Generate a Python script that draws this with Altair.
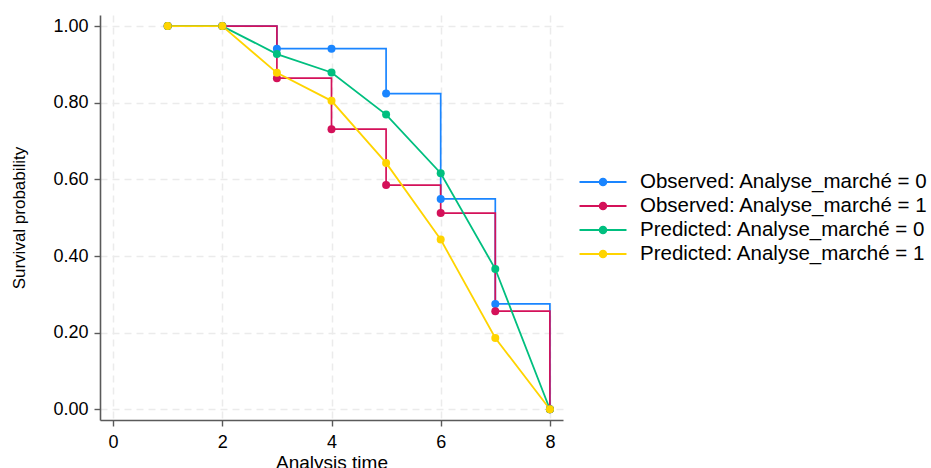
import altair as alt
import pandas as pd

times = [1, 2, 3, 4, 5, 6, 7, 8]
obs0 = [1.0, 1.0, 0.941, 0.941, 0.824, 0.549, 0.275, 0.0]
obs1 = [1.0, 1.0, 0.864, 0.731, 0.585, 0.512, 0.256, 0.0]
pred0 = [1.0, 1.0, 0.927, 0.879, 0.769, 0.616, 0.366, 0.0]
pred1 = [1.0, 1.0, 0.878, 0.805, 0.643, 0.443, 0.186, 0.0]

labels = [
    "Observed: Analyse_marché = 0",
    "Observed: Analyse_marché = 1",
    "Predicted: Analyse_marché = 0",
    "Predicted: Analyse_marché = 1",
]
kinds = ["obs", "obs", "pred", "pred"]
colors = ["#1a85ff", "#d41159", "#00bf7f", "#ffd400"]
x_ticks = [0, 2, 4, 6, 8]
y_ticks = [0.0, 0.2, 0.4, 0.6, 0.8, 1.0]

rows = []
for i, (lab, kind, vals) in enumerate(zip(labels, kinds, [obs0, obs1, pred0, pred1])):
    for t, v in zip(times, vals):
        rows.append({"t": t, "s": v, "series": lab, "kind": kind, "order": i})
df = pd.DataFrame(rows)

FONT = "Liberation Sans"
SYMBOL = "M-2,0H2M-0.28,0A0.28,0.28,0,1,0,0.28,0A0.28,0.28,0,1,0,-0.28,0Z"

x = alt.X(
    "t:Q",
    scale=alt.Scale(domain=[-0.24, 8.24], nice=False, zero=False),
    axis=alt.Axis(values=x_ticks, format="d", title="Analysis time",
                  labelPadding=7, titleY=33),
)
y = alt.Y(
    "s:Q",
    scale=alt.Scale(domain=[-0.028, 1.029], nice=False, zero=False),
    axis=alt.Axis(values=y_ticks, format=".2f", title="Survival probability",
                  labelPadding=6, titleX=-72),
)
color = alt.Color(
    "series:N",
    scale=alt.Scale(domain=labels, range=colors),
    title=None,
    legend=alt.Legend(
        orient="none", legendX=490, legendY=154,
        symbolType=SYMBOL, symbolSize=552, symbolStrokeWidth=2,
        labelOffset=24, rowPadding=0, labelFontSize=20.5, labelFont=FONT,
        labelColor="#000000", labelLimit=400,
    ),
)

base = alt.Chart(df)
obs_line = base.transform_filter(alt.datum.kind == "obs").mark_line(
    interpolate="step-after", strokeWidth=1.7
).encode(x=x, y=y, color=color, detail="series:N", order="t:Q")
pred_line = base.transform_filter(alt.datum.kind == "pred").mark_line(
    strokeWidth=1.8
).encode(x=x, y=y, color=color, detail="series:N", order="t:Q")
points = base.mark_point(filled=True, size=64, opacity=1).encode(
    x=x, y=y, color=color, order="order:Q"
)

chart = alt.layer(obs_line, pred_line, points).properties(
    width=463, height=405,
    autosize=alt.AutoSizeParams(type="none"),
    padding={"left": 100, "top": 15, "right": 368, "bottom": 48},
    background="white",
).configure_view(stroke=None).configure_axis(
    domainColor="#5a5a5a", domainWidth=1.6,
    tickColor="#5a5a5a", tickWidth=1.4, tickSize=6,
    gridColor="#ebebeb", gridDash=[7, 5], gridWidth=1.5,
    labelFont=FONT, labelFontSize=18, labelColor="#000000",
    titleFont=FONT, titleFontSize=19, titleColor="#000000", titleFontWeight="normal",
).configure_axisY(titleFontSize=17)

chart.save("out.html", embed_options={"renderer": "svg", "actions": False})
